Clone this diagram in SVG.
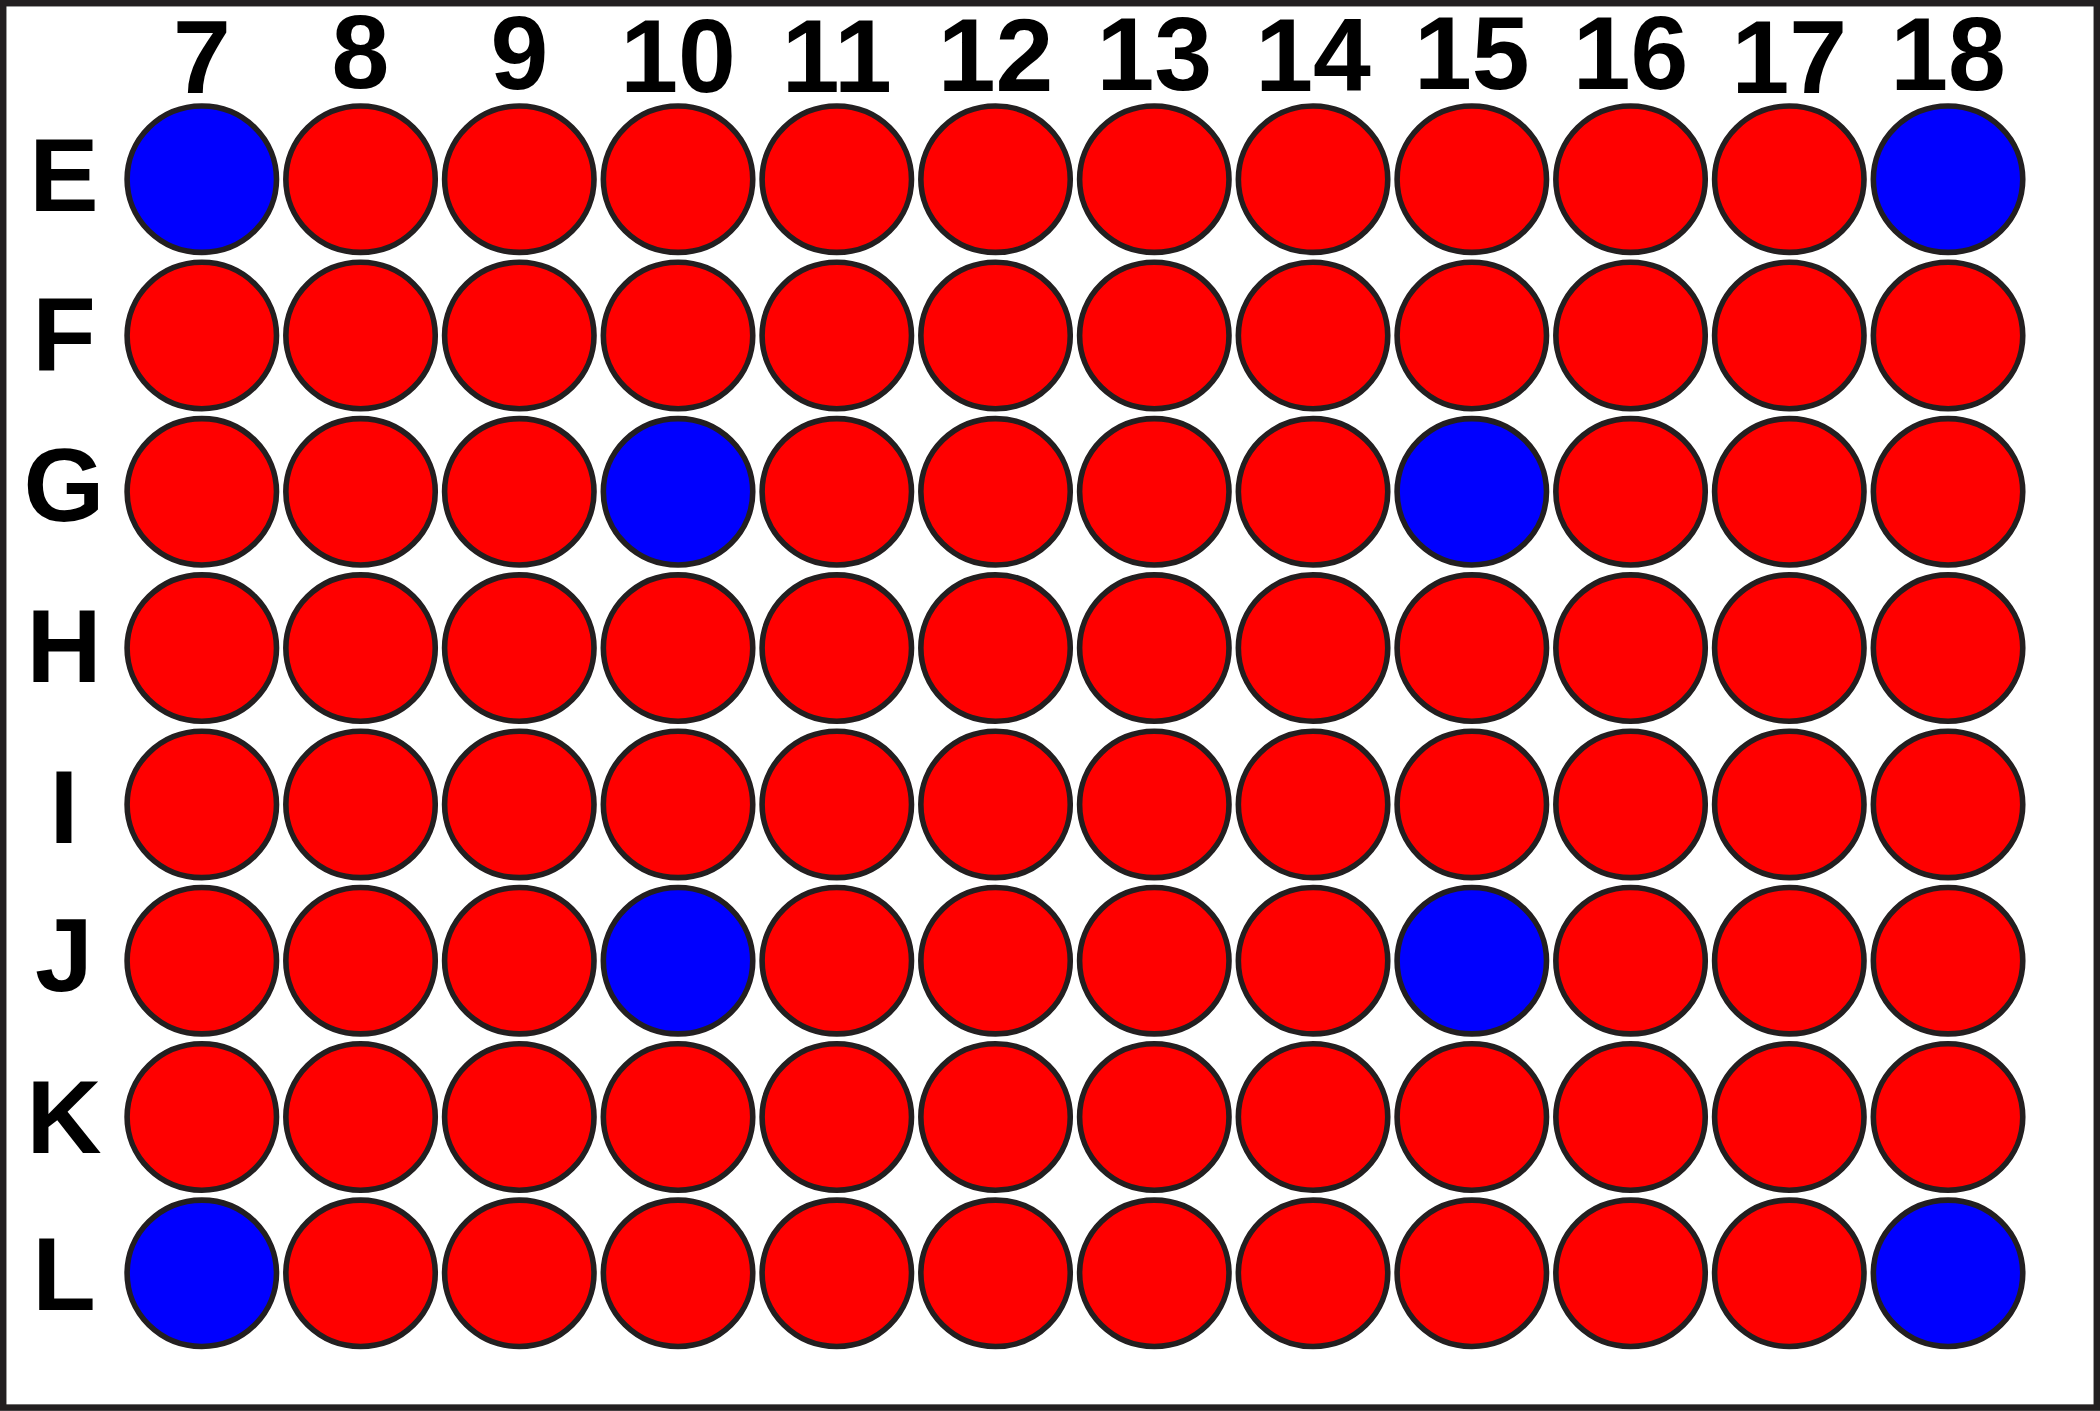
<svg xmlns="http://www.w3.org/2000/svg" width="2100" height="1411" viewBox="0 0 2100 1411">
<style>
.w{stroke:#231F20;stroke-width:5.6}
.r{fill:#FF0000}
.b{fill:#0000FF}
.lbl{font-family:"Liberation Sans",Arial,sans-serif;font-weight:bold;font-size:104px;fill:#000;text-anchor:middle}
</style>
<defs>
<ellipse id="well" cx="0" cy="0" rx="74.7" ry="73.2"/>
</defs>
<rect x="0" y="0" width="2100" height="1411" fill="#fff"/>
<rect x="3.2" y="3.2" width="2093.6" height="1404.4" fill="none" stroke="#231F20" stroke-width="6.5"/>
<g id="col-labels" class="lbl">
<text x="202" y="92.5">7</text>
<text x="360.5" y="88">8</text>
<text x="519.3" y="88.5">9</text>
<text x="678" y="91.5">10</text>
<text x="836.8" y="91.5">11</text>
<text x="995.5" y="91">12</text>
<text x="1154.3" y="90">13</text>
<text x="1313" y="91">14</text>
<text x="1471.8" y="89.3">15</text>
<text x="1630.5" y="88.5">16</text>
<text x="1789.3" y="92.5">17</text>
<text x="1948" y="89.5">18</text>
</g>
<g id="row-labels" class="lbl">
<text x="64" y="211">E</text>
<text x="64" y="370">F</text>
<text x="64" y="521">G</text>
<text x="64" y="682">H</text>
<text x="64" y="843">I</text>
<text x="64" y="991">J</text>
<text x="64" y="1153">K</text>
<text x="64" y="1310">L</text>
</g>
<g id="wells">
<g id="E7"><use href="#well" class="w b" x="201.8" y="179.2"/></g>
<g id="E8"><use href="#well" class="w r" x="360.55" y="179.2"/></g>
<g id="E9"><use href="#well" class="w r" x="519.3" y="179.2"/></g>
<g id="E10"><use href="#well" class="w r" x="678.05" y="179.2"/></g>
<g id="E11"><use href="#well" class="w r" x="836.8" y="179.2"/></g>
<g id="E12"><use href="#well" class="w r" x="995.55" y="179.2"/></g>
<g id="E13"><use href="#well" class="w r" x="1154.3" y="179.2"/></g>
<g id="E14"><use href="#well" class="w r" x="1313.05" y="179.2"/></g>
<g id="E15"><use href="#well" class="w r" x="1471.8" y="179.2"/></g>
<g id="E16"><use href="#well" class="w r" x="1630.55" y="179.2"/></g>
<g id="E17"><use href="#well" class="w r" x="1789.3" y="179.2"/></g>
<g id="E18"><use href="#well" class="w b" x="1948.05" y="179.2"/></g>
<g id="F7"><use href="#well" class="w r" x="201.8" y="335.5"/></g>
<g id="F8"><use href="#well" class="w r" x="360.55" y="335.5"/></g>
<g id="F9"><use href="#well" class="w r" x="519.3" y="335.5"/></g>
<g id="F10"><use href="#well" class="w r" x="678.05" y="335.5"/></g>
<g id="F11"><use href="#well" class="w r" x="836.8" y="335.5"/></g>
<g id="F12"><use href="#well" class="w r" x="995.55" y="335.5"/></g>
<g id="F13"><use href="#well" class="w r" x="1154.3" y="335.5"/></g>
<g id="F14"><use href="#well" class="w r" x="1313.05" y="335.5"/></g>
<g id="F15"><use href="#well" class="w r" x="1471.8" y="335.5"/></g>
<g id="F16"><use href="#well" class="w r" x="1630.55" y="335.5"/></g>
<g id="F17"><use href="#well" class="w r" x="1789.3" y="335.5"/></g>
<g id="F18"><use href="#well" class="w r" x="1948.05" y="335.5"/></g>
<g id="G7"><use href="#well" class="w r" x="201.8" y="491.8"/></g>
<g id="G8"><use href="#well" class="w r" x="360.55" y="491.8"/></g>
<g id="G9"><use href="#well" class="w r" x="519.3" y="491.8"/></g>
<g id="G10"><use href="#well" class="w b" x="678.05" y="491.8"/></g>
<g id="G11"><use href="#well" class="w r" x="836.8" y="491.8"/></g>
<g id="G12"><use href="#well" class="w r" x="995.55" y="491.8"/></g>
<g id="G13"><use href="#well" class="w r" x="1154.3" y="491.8"/></g>
<g id="G14"><use href="#well" class="w r" x="1313.05" y="491.8"/></g>
<g id="G15"><use href="#well" class="w b" x="1471.8" y="491.8"/></g>
<g id="G16"><use href="#well" class="w r" x="1630.55" y="491.8"/></g>
<g id="G17"><use href="#well" class="w r" x="1789.3" y="491.8"/></g>
<g id="G18"><use href="#well" class="w r" x="1948.05" y="491.8"/></g>
<g id="H7"><use href="#well" class="w r" x="201.8" y="648.1"/></g>
<g id="H8"><use href="#well" class="w r" x="360.55" y="648.1"/></g>
<g id="H9"><use href="#well" class="w r" x="519.3" y="648.1"/></g>
<g id="H10"><use href="#well" class="w r" x="678.05" y="648.1"/></g>
<g id="H11"><use href="#well" class="w r" x="836.8" y="648.1"/></g>
<g id="H12"><use href="#well" class="w r" x="995.55" y="648.1"/></g>
<g id="H13"><use href="#well" class="w r" x="1154.3" y="648.1"/></g>
<g id="H14"><use href="#well" class="w r" x="1313.05" y="648.1"/></g>
<g id="H15"><use href="#well" class="w r" x="1471.8" y="648.1"/></g>
<g id="H16"><use href="#well" class="w r" x="1630.55" y="648.1"/></g>
<g id="H17"><use href="#well" class="w r" x="1789.3" y="648.1"/></g>
<g id="H18"><use href="#well" class="w r" x="1948.05" y="648.1"/></g>
<g id="I7"><use href="#well" class="w r" x="201.8" y="804.4"/></g>
<g id="I8"><use href="#well" class="w r" x="360.55" y="804.4"/></g>
<g id="I9"><use href="#well" class="w r" x="519.3" y="804.4"/></g>
<g id="I10"><use href="#well" class="w r" x="678.05" y="804.4"/></g>
<g id="I11"><use href="#well" class="w r" x="836.8" y="804.4"/></g>
<g id="I12"><use href="#well" class="w r" x="995.55" y="804.4"/></g>
<g id="I13"><use href="#well" class="w r" x="1154.3" y="804.4"/></g>
<g id="I14"><use href="#well" class="w r" x="1313.05" y="804.4"/></g>
<g id="I15"><use href="#well" class="w r" x="1471.8" y="804.4"/></g>
<g id="I16"><use href="#well" class="w r" x="1630.55" y="804.4"/></g>
<g id="I17"><use href="#well" class="w r" x="1789.3" y="804.4"/></g>
<g id="I18"><use href="#well" class="w r" x="1948.05" y="804.4"/></g>
<g id="J7"><use href="#well" class="w r" x="201.8" y="960.7"/></g>
<g id="J8"><use href="#well" class="w r" x="360.55" y="960.7"/></g>
<g id="J9"><use href="#well" class="w r" x="519.3" y="960.7"/></g>
<g id="J10"><use href="#well" class="w b" x="678.05" y="960.7"/></g>
<g id="J11"><use href="#well" class="w r" x="836.8" y="960.7"/></g>
<g id="J12"><use href="#well" class="w r" x="995.55" y="960.7"/></g>
<g id="J13"><use href="#well" class="w r" x="1154.3" y="960.7"/></g>
<g id="J14"><use href="#well" class="w r" x="1313.05" y="960.7"/></g>
<g id="J15"><use href="#well" class="w b" x="1471.8" y="960.7"/></g>
<g id="J16"><use href="#well" class="w r" x="1630.55" y="960.7"/></g>
<g id="J17"><use href="#well" class="w r" x="1789.3" y="960.7"/></g>
<g id="J18"><use href="#well" class="w r" x="1948.05" y="960.7"/></g>
<g id="K7"><use href="#well" class="w r" x="201.8" y="1117"/></g>
<g id="K8"><use href="#well" class="w r" x="360.55" y="1117"/></g>
<g id="K9"><use href="#well" class="w r" x="519.3" y="1117"/></g>
<g id="K10"><use href="#well" class="w r" x="678.05" y="1117"/></g>
<g id="K11"><use href="#well" class="w r" x="836.8" y="1117"/></g>
<g id="K12"><use href="#well" class="w r" x="995.55" y="1117"/></g>
<g id="K13"><use href="#well" class="w r" x="1154.3" y="1117"/></g>
<g id="K14"><use href="#well" class="w r" x="1313.05" y="1117"/></g>
<g id="K15"><use href="#well" class="w r" x="1471.8" y="1117"/></g>
<g id="K16"><use href="#well" class="w r" x="1630.55" y="1117"/></g>
<g id="K17"><use href="#well" class="w r" x="1789.3" y="1117"/></g>
<g id="K18"><use href="#well" class="w r" x="1948.05" y="1117"/></g>
<g id="L7"><use href="#well" class="w b" x="201.8" y="1273.3"/></g>
<g id="L8"><use href="#well" class="w r" x="360.55" y="1273.3"/></g>
<g id="L9"><use href="#well" class="w r" x="519.3" y="1273.3"/></g>
<g id="L10"><use href="#well" class="w r" x="678.05" y="1273.3"/></g>
<g id="L11"><use href="#well" class="w r" x="836.8" y="1273.3"/></g>
<g id="L12"><use href="#well" class="w r" x="995.55" y="1273.3"/></g>
<g id="L13"><use href="#well" class="w r" x="1154.3" y="1273.3"/></g>
<g id="L14"><use href="#well" class="w r" x="1313.05" y="1273.3"/></g>
<g id="L15"><use href="#well" class="w r" x="1471.8" y="1273.3"/></g>
<g id="L16"><use href="#well" class="w r" x="1630.55" y="1273.3"/></g>
<g id="L17"><use href="#well" class="w r" x="1789.3" y="1273.3"/></g>
<g id="L18"><use href="#well" class="w b" x="1948.05" y="1273.3"/></g>
</g>
</svg>
